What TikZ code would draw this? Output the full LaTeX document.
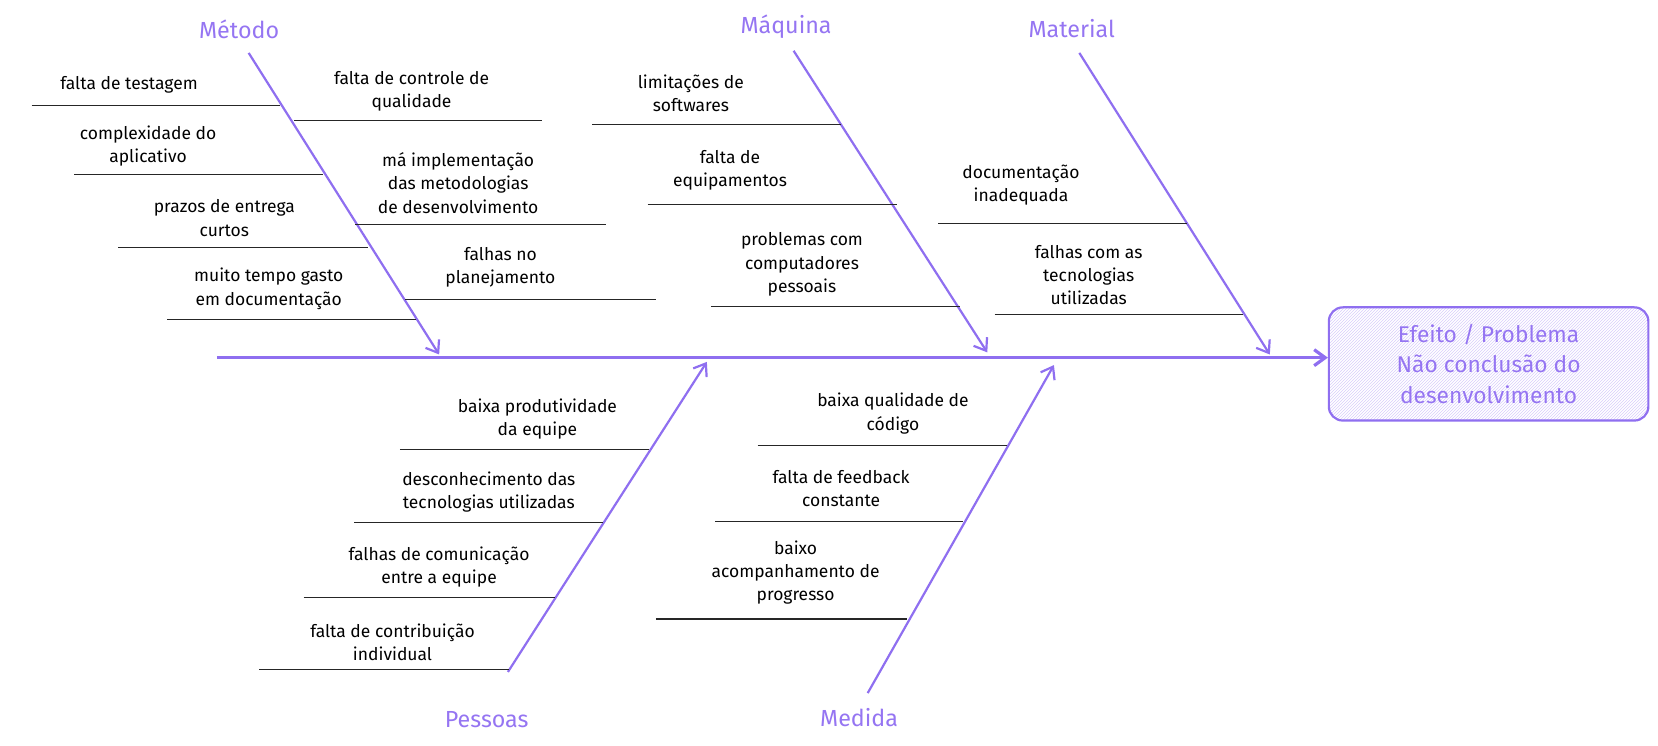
\documentclass[tikz,border=0pt]{standalone}
\usepackage{fontspec}
\setmainfont{Fira Sans}
\usetikzlibrary{arrows.meta,patterns}
\definecolor{purp}{HTML}{8F6FF0}
\definecolor{lab}{HTML}{9575F2}
\tikzset{
 bone/.style={draw=purp,line width=2.2pt,-{Straight Barb[length=11pt,width=16pt]}},
 sub/.style={draw=black!85,line width=1.2pt},
 txt/.style={align=center,font=\fontsize{16.5}{22}\selectfont,inner sep=0pt},
 cat/.style={text=lab,font=\fontsize{22}{24}\selectfont,inner sep=0pt},
}
\begin{document}
\begin{tikzpicture}[x=1pt,y=-1pt]
\useasboundingbox (0,0) rectangle (1658,746);
\begin{scope}[scale=1.058,transform shape]
\coordinate (s0) at (205,338);
\node[draw=purp,line width=2.2pt,rounded corners=14pt,pattern=north east lines,pattern color=purp!35,minimum width=302pt,minimum height=107pt,inner sep=0pt] (eff) at (1407,344) {};
\node[text=lab,align=center,font=\fontsize{21.5}{29}\selectfont] (efft) at (1407,344) {Efeito / Problema\\Não conclusão do\\desenvolvimento};
\draw[bone,line width=3.2pt] (s0) -- (eff.west |- s0);
\coordinate (m1) at (235,50); \coordinate (m2) at (415,335);
\coordinate (q1) at (750,48); \coordinate (q2) at (933,333);
\coordinate (t1) at (1020,50); \coordinate (t2) at (1200,335);
\coordinate (p1) at (480,635); \coordinate (p2) at (668,342);
\coordinate (d1) at (820,655); \coordinate (d2) at (996,345);
\draw[bone] (m1) -- (m2);
\draw[bone] (q1) -- (q2);
\draw[bone] (t1) -- (t2);
\draw[bone] (p1) -- (p2);
\draw[bone] (d1) -- (d2);
\node[cat] (lm) at (226,28) {Método};
\node[cat] (lq) at (743,25) {Máquina};
\node[cat] (lt) at (1013,27) {Material};
\node[cat] (lp) at (460,680) {Pessoas};
\node[cat] (ld) at (812,678) {Medida};
\foreach \y/\a/\b in {100/30/265,165/70/305,234/112/348,302/158/393,114/278/512,212/336/573,283/383/620,118/560/795,193/612/848,290/672/907,211/887/1122,297/940/1175,425/378/613,494/335/570,565/287/525,633/245/481,421/716/952,493/676/910,585/620/857}
 {\draw[sub] (\a,\y) coordinate (a\y) -- (\b,\y) coordinate (b\y);}
\node[txt] (t01) at (122,80) {falta de testagem};
\node[txt] (t02) at (140,138) {complexidade do\\aplicativo};
\node[txt] (t03) at (212,206) {prazos de entrega\\curtos};
\node[txt] (t04) at (254,273) {muito tempo gasto\\em documentação};
\node[txt] (t05) at (389,86) {falta de controle de\\qualidade};
\node[txt] (t06) at (433,173) {má implementação\\das metodologias\\de desenvolvimento};
\node[txt] (t07) at (473,253) {falhas no\\planejamento};
\node[txt] (t08) at (653,88) {limitações de\\softwares};
\node[txt] (t09) at (690,161) {falta de\\equipamentos};
\node[txt] (t10) at (758,250) {problemas com\\computadores\\pessoais};
\node[txt] (t11) at (965,175) {documentação\\inadequada};
\node[txt] (t12) at (1029,260) {falhas com as\\tecnologias\\utilizadas};
\node[txt] (t13) at (508,396) {baixa produtividade\\da equipe};
\node[txt] (t14) at (462,465) {desconhecimento das\\tecnologias utilizadas};
\node[txt] (t15) at (415,536) {falhas de comunicação\\entre a equipe};
\node[txt] (t16) at (371,607) {falta de contribuição\\individual};
\node[txt] (t17) at (844,391) {baixa qualidade de\\código};
\node[txt] (t18) at (795,462) {falta de feedback\\constante};
\node[txt] (t19) at (752,541) {baixo\\acompanhamento de\\progresso};
\end{scope}
\end{tikzpicture}
\end{document}
